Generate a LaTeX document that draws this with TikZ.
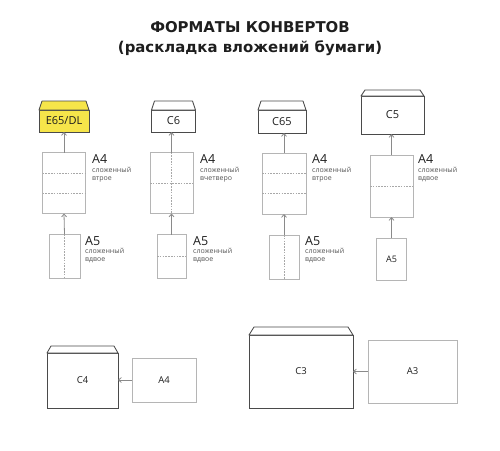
\documentclass[tikz,border=0pt]{standalone}
\usepackage{fontspec}
\setmainfont{Open Sans}
\newfontfamily\titlefont{DejaVu Sans}
\usetikzlibrary{arrows.meta}
\definecolor{envline}{HTML}{4A4A4A}
\definecolor{paperline}{HTML}{B5B5B5}
\definecolor{foldline}{HTML}{A8A8A8}
\definecolor{arrcol}{HTML}{8A8A8A}
\definecolor{envyellow}{HTML}{F6E54A}
\definecolor{txt}{HTML}{1E1E1E}
\definecolor{subtxt}{HTML}{555555}
\tikzset{
  envbox/.style={draw=envline,line width=0.85pt,fill=white,inner sep=0pt,outer sep=0pt,text=txt,font=\fontsize{11}{12}\selectfont},
  flap/.style={draw=envline,line width=0.85pt,fill=white,line join=round},
  paper/.style={draw=paperline,line width=0.6pt,fill=white,inner sep=0pt,outer sep=0pt,text=txt,font=\fontsize{9}{10}\selectfont},
  fold/.style={draw=foldline,line width=0.5pt,dash pattern=on 1.6pt off 1.2pt},
  arr/.style={draw=arrcol,line width=0.8pt,-{Straight Barb[length=2.8pt,width=5pt]}},
  biglab/.style={anchor=base west,inner sep=0pt,text=txt,font=\fontsize{12.5}{13}\selectfont},
  smalllab/.style={anchor=base west,inner sep=0pt,text=subtxt,font=\fontsize{7}{8}\selectfont},
  titlelab/.style={anchor=base,inner sep=0pt,text=txt,font=\titlefont\bfseries\fontsize{14.9}{16}\selectfont},
}
\begin{document}
\begin{tikzpicture}[x=1pt,y=-1pt]
\useasboundingbox (0,0) rectangle (500,450);
% title
\node[titlelab] (t1) at (250,32) {ФОРМАТЫ КОНВЕРТОВ};
\node[titlelab] (t2) at (250,52.5) {(раскладка вложений бумаги)};

% ---------- column 1 ----------
\node[envbox,fill=envyellow,minimum width=50pt,minimum height=22pt] (e1) at (64,121) {E65/DL};
\draw[flap,fill=envyellow] (e1.north west) -- ++(3,-9) -- ([xshift=-3pt,yshift=9pt]e1.north east) -- (e1.north east) -- cycle;
\node[paper,minimum width=43pt,minimum height=61pt] (a1) at (64,183) {};
\draw[fold] ([yshift=-20.3pt]a1.north west) -- ([yshift=-20.3pt]a1.north east);
\draw[fold] ([yshift=20.3pt]a1.south west) -- ([yshift=20.3pt]a1.south east);
\node[paper,minimum width=31pt,minimum height=44pt] (b1) at (64.5,256.5) {};
\draw[fold] (b1.north) -- (b1.south);
\draw[arr] (a1.north) -- (e1.south);
\draw[arr] (b1.north) -- (a1.south);
\node[biglab] (a1l) at (92,163) {А4};
\node[smalllab] (a1s1) at (92,172) {сложенный};
\node[smalllab] (a1s2) at (92,180.5) {втрое};
\node[biglab] (b1l) at (85,245) {А5};
\node[smalllab] (b1s1) at (85,253) {сложенный};
\node[smalllab] (b1s2) at (85,261.5) {вдвое};

% ---------- column 2 ----------
\node[envbox,minimum width=44pt,minimum height=22pt] (e2) at (173.5,121) {C6};
\draw[flap] (e2.north west) -- ++(3,-9) -- ([xshift=-3pt,yshift=9pt]e2.north east) -- (e2.north east) -- cycle;
\node[paper,minimum width=43pt,minimum height=61pt] (a2) at (171.5,183) {};
\draw[fold] (a2.west) -- (a2.east);
\draw[fold] (a2.north) -- (a2.south);
\node[paper,minimum width=29pt,minimum height=44pt] (b2) at (171.5,256.5) {};
\draw[fold] (b2.west) -- (b2.east);
\draw[arr] (a2.north) -- (e2.south -| a2.north);
\draw[arr] (b2.north) -- (a2.south);
\node[biglab] (a2l) at (200,163) {А4};
\node[smalllab] (a2s1) at (200,172) {сложенный};
\node[smalllab] (a2s2) at (200,180.5) {вчетверо};
\node[biglab] (b2l) at (193,245) {А5};
\node[smalllab] (b2s1) at (193,253) {сложенный};
\node[smalllab] (b2s2) at (193,261.5) {вдвое};

% ---------- column 3 ----------
\node[envbox,minimum width=48pt,minimum height=23pt] (e3) at (282,121.5) {C65};
\draw[flap] (e3.north west) -- ++(3,-9) -- ([xshift=-3pt,yshift=9pt]e3.north east) -- (e3.north east) -- cycle;
\node[paper,minimum width=44pt,minimum height=61pt] (a3) at (284,183.5) {};
\draw[fold] ([yshift=-20.3pt]a3.north west) -- ([yshift=-20.3pt]a3.north east);
\draw[fold] ([yshift=20.3pt]a3.south west) -- ([yshift=20.3pt]a3.south east);
\node[paper,minimum width=30pt,minimum height=44pt] (b3) at (284,257) {};
\draw[fold] (b3.north) -- (b3.south);
\draw[arr] (a3.north) -- (e3.south -| a3.north);
\draw[arr] (b3.north) -- (a3.south);
\node[biglab] (a3l) at (312,163) {А4};
\node[smalllab] (a3s1) at (312,172) {сложенный};
\node[smalllab] (a3s2) at (312,180.5) {втрое};
\node[biglab] (b3l) at (305,245) {А5};
\node[smalllab] (b3s1) at (305,253) {сложенный};
\node[smalllab] (b3s2) at (305,261.5) {вдвое};

% ---------- column 4 ----------
\node[envbox,minimum width=63pt,minimum height=38pt] (e4) at (392.5,115) {C5};
\draw[flap] (e4.north west) -- ++(4,-6) -- ([xshift=-4pt,yshift=6pt]e4.north east) -- (e4.north east) -- cycle;
\node[paper,minimum width=43pt,minimum height=62pt] (a4) at (391.5,186) {};
\draw[fold] (a4.west) -- (a4.east);
\node[paper,minimum width=30pt,minimum height=42pt] (b4) at (391.5,259) {А5};
\draw[arr] (a4.north) -- (e4.south -| a4.north);
\draw[arr] (b4.north) -- (a4.south);
\node[biglab] (a4l) at (418,163) {А4};
\node[smalllab] (a4s1) at (418,172) {сложенный};
\node[smalllab] (a4s2) at (418,180.5) {вдвое};

% ---------- bottom ----------
\node[envbox,font=\fontsize{9.5}{10}\selectfont,minimum width=71pt,minimum height=55pt] (c4) at (82.5,380.5) {C4};
\draw[flap] (c4.north west) -- ++(4,-7) -- ([xshift=-4pt,yshift=7pt]c4.north east) -- (c4.north east) -- cycle;
\node[paper,font=\fontsize{9.5}{10}\selectfont,minimum width=64pt,minimum height=44pt] (p4) at (164,380) {А4};
\draw[arr] (p4.west) -- (p4.west -| c4.east);

\node[envbox,font=\fontsize{9.5}{10}\selectfont,minimum width=104pt,minimum height=73pt] (c3) at (301,371.5) {C3};
\draw[flap] (c3.north west) -- ++(5,-8) -- ([xshift=-5pt,yshift=8pt]c3.north east) -- (c3.north east) -- cycle;
\node[paper,font=\fontsize{9.5}{10}\selectfont,minimum width=89pt,minimum height=63pt] (p3) at (412.5,371.5) {А3};
\draw[arr] (p3.west) -- (p3.west -| c3.east);
\end{tikzpicture}
\end{document}
